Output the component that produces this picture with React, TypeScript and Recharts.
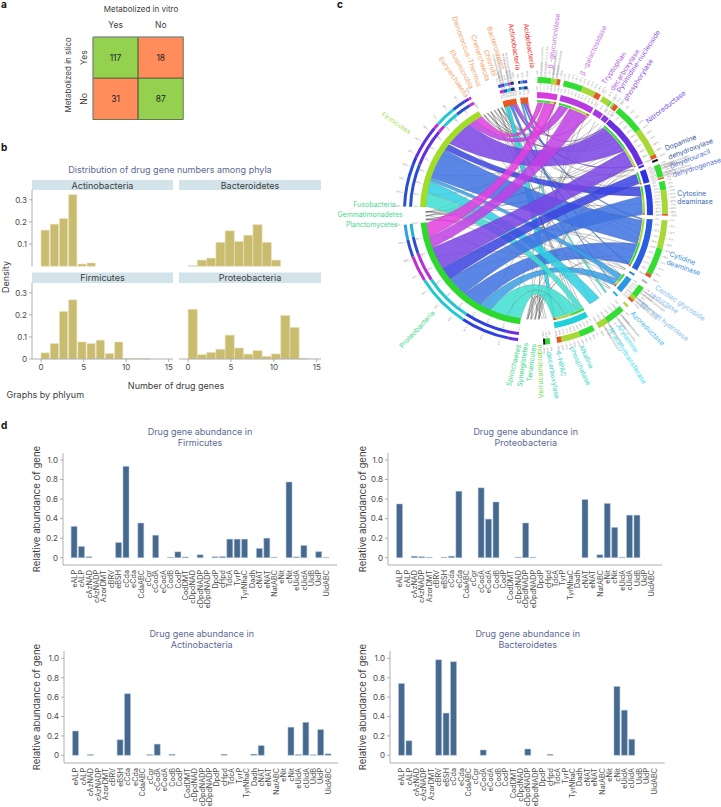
import React from 'react';
import { BarChart, Bar, XAxis, YAxis, Cell, LabelList, PieChart, Pie } from 'recharts';

const FONT = 'Inter, "Noto Sans", sans-serif';
const TITLE = '#5c6a94';
const INK = '#3d3d3d';

/* ---------- panel a ---------- */
const vitroCategories = ['Yes', 'No'];
const silicoYesCounts = [117, 18];
const silicoNoCounts = [31, 87];
const GREEN = '#93d14f';
const ORANGE = '#ff8d5c';
const silicoYesFills = [GREEN, ORANGE];
const silicoNoFills = [ORANGE, GREEN];
const matrixRows = vitroCategories.map((c, i) => ({ c, y: 1, n: 1, yc: silicoYesCounts[i], nc: silicoNoCounts[i] }));

/* ---------- panel b ---------- */
const BIN = 1.08;
const actinoDensity = [0.163, 0.19, 0.215, 0.323, 0.01, 0.015];
const bacteroDensity = [0.003, 0.028, 0.037, 0.108, 0.16, 0.112, 0.14, 0.188, 0.108, 0.028];
const firmiDensity = [0.028, 0.07, 0.215, 0.268, 0.077, 0.07, 0.085, 0.025, 0.077, 0.002, 0.002, 0.001];
const proteoDensity = [0.225, 0.02, 0.03, 0.044, 0.108, 0.05, 0.022, 0.038, 0.012, 0.023, 0.197, 0.143, 0.002];
const densityTicks = [0, 0.1, 0.2, 0.3];
const geneTicks = [0, 5, 10, 15];
const toBins = (a: number[]) => a.map((d, i) => ({ x: (i + 0.5) * BIN, d }));

/* ---------- panel d ---------- */
const genes = ['eALP','cALP','cAzNAD','cAzNADP','AzorDMT','cBRV','eBSH','cCda','eCda','CdaABC','cCgr','cCodA','eCodA','CodB','CodP','CodDMT','cDpdNAD','cDpdNADP','eDpdNADP','DpdP','cHpd','TdcA','TyrP','TyrNhaC','Dadh','cNAT','eNAT','NatABC','eNit','cNit','eUidA','cUidA','UidB','UidP','UidABC'];
const firmiAbundance = [0.32,0.115,0.01,0,0,0,0.155,0.935,0,0.355,0,0.23,0,0.005,0.06,0.008,0,0.03,0,0.01,0.012,0.19,0.19,0.19,0,0.095,0.2,0.005,0,0.775,0.008,0.125,0,0.062,0.004];
const proteoAbundance = [0.55,0,0.015,0.01,0.005,0,0.005,0.015,0.68,0,0,0.715,0.395,0.57,0,0,0.005,0.355,0.005,0,0,0,0,0,0,0.595,0,0.03,0.555,0.31,0.005,0.435,0.435,0,0];
const actinoAbundance = [0.25,0,0.008,0,0,0,0.16,0.635,0,0,0.008,0.115,0,0.01,0,0,0,0,0,0,0.01,0,0,0,0.012,0.1,0,0,0,0.29,0.008,0.34,0.005,0.265,0.015];
const bacteroAbundance = [0.74,0.15,0,0,0,0.985,0.435,0.965,0,0,0,0.055,0,0,0,0,0,0.065,0,0,0.01,0,0,0,0,0,0,0,0,0.71,0.465,0.165,0,0,0];
const abundanceTicks = [0, 0.2, 0.4, 0.6, 0.8, 1];

/* ---------- panel c: sectors, clockwise from the top ---------- */
const sectorNames = ['β-glucuronidase','β-galactosidase','Tryptophan','Pyrimidine','Nitroreductase','Dopamine','Dihydrouracil','Cytosine','Cytidine','Cardiac','Bile','Azoreductase','Arylamine','Alkaline','HPAC','Verrucomicrobia','Tenericutes','Synergistetes','Spirochaetes','Proteobacteria','Planctomycetes','Gemmatimonadetes','Fusobacteria','Firmicutes','Euryarchaeota','Elusimicrobia','Deinococcus','Crenarchaeota','Chlorobi','Bacteroidetes','Actinobacteria','Acidobacteria'];
const sectorSizes = [10,17,4.5,3,27,1,6.5,15,26,1,8,1,13,17,3,1,1,1,1,77,1,1,1,59,1,1,1,1,1,1,7,4];
const sectorGaps = [1.5,1,0.5,0.5,0.5,1.5,1,2,2,2,2,2,2,3,1,1,1,1,3,1,1,1,2,1,1,1,1,1,1,1,2,4.5];
const ORIGIN = 1.5;
const CX = 196, CY = 211, RIB = 108.5;

const thickRight: Record<string, string> = { 'β-glucuronidase':'#d83ae0','β-galactosidase':'#b83ae0','Tryptophan':'#a83ae0','Pyrimidine':'#8a3ae0','Nitroreductase':'#6a30e0','Dopamine':'#4030e0','Dihydrouracil':'#3030e0','Cytosine':'#2a40e0','Cytidine':'#2a60e0','Cardiac':'#2a80e0','Bile':'#2a98e0','Azoreductase':'#20b0e0','Alkaline':'#20d0d8' };
const thickLeft: Record<string, string> = { Proteobacteria:'#2fd82f', Firmicutes:'#a0dc28', Actinobacteria:'#e85820', Acidobacteria:'#e85820' };

const G = '#33dd33', L = '#a8d838', O = '#e05a28', K = '#1b1b1b';
const enzymeSegments: Record<string, [number, string][]> = {
  'β-glucuronidase':[[60,G],[25,L],[15,O]], 'β-galactosidase':[[50,G],[35,L],[15,O]], 'Tryptophan':[[85,L],[15,G]], 'Pyrimidine':[[30,L],[70,O]],
  'Nitroreductase':[[48,G],[46,L],[6,O]], 'Dopamine':[[100,K]], 'Dihydrouracil':[[85,G],[5,L],[10,O]], 'Cytosine':[[25,G],[70,L],[5,O]],
  'Cytidine':[[48,L],[46,G],[6,O]], 'Cardiac':[[100,'#bbbbbb']], 'Bile':[[65,G],[20,L],[15,O]], 'Azoreductase':[[100,L]], 'Arylamine':[[65,G],[35,L]],
  'Alkaline':[[40,G],[48,L],[12,O]], 'HPAC':[[70,G],[30,K]],
};
const innerSegments: Record<string, [number, string][]> = {
  'β-glucuronidase':[[70,G],[20,L],[10,O]], 'β-galactosidase':[[40,G],[50,L],[10,O]], 'Nitroreductase':[[60,G],[38,L],[2,O]], 'Dihydrouracil':[[85,G],[15,O]],
  'Cytosine':[[30,G],[64,L],[6,O]], 'Cytidine':[[50,L],[46,G],[4,O]], 'Bile':[[60,G],[25,L],[15,O]], 'Alkaline':[[45,G],[45,L],[10,O]],
};
const outerStripes: Record<string, [number, string][]> = {
  Proteobacteria:[[6,'#6a30e0'],[28,'#3040e0'],[32,'#20c8d0'],[15,'#c030d0'],[10,'#2a50d0'],[9,'#30a0e0']],
  Firmicutes:[[32,'#2a50d0'],[6,'#2d3ad8'],[26,'#6030e0'],[4,'#c030d0'],[16,'#20c8d0'],[10,'#2a50d0'],[4,'#6030e0'],[2,'#d030d0']],
  Actinobacteria:[[20,'#2a50d0'],[20,'#6030e0'],[20,'#20c8d0'],[20,'#c030d0'],[20,'#203080']],
  Acidobacteria:[[25,'#203080'],[25,'#20a0d0'],[25,'#6030e0'],[25,'#2a50d0']],
};
const innerStripes: Record<string, [number, string][]> = {
  Proteobacteria:[[8,'#6a30e0'],[26,'#3040e0'],[30,'#20c8d0'],[18,'#b830d8'],[10,'#2a50d0'],[8,'#20b0d0']],
  Firmicutes:[[34,'#2a50d0'],[30,'#6030e0'],[6,'#c030d0'],[14,'#20c8d0'],[12,'#2a50d0'],[4,'#d030d0']],
  Actinobacteria:[[25,'#c030d0'],[25,'#2a50d0'],[25,'#20c8d0'],[25,'#203080']],
  Acidobacteria:[[30,'#2a50d0'],[30,'#20a0d0'],[40,'#203080']],
};

const TEAL = '#3fe0d2', CYAN = '#30cfe2', SKY = '#3a9ee4', BLUE = '#3f72e2', NAVY = '#3a44e2', VIOLET = '#7a45e5', PURP = '#c040e5', MAG = '#e33fe0';
/* phylum, offset, width, enzyme, offset, width, colour */
const ribbons: [string, number, number, string, number, number, string][] = [
  ['Actinobacteria',0,1.5,'Arylamine',0,1,TEAL],['Actinobacteria',1.5,1.5,'Alkaline',16,0.6,CYAN],['Actinobacteria',3,1.5,'Cytidine',25,0.5,BLUE],['Actinobacteria',4.5,1.2,'Nitroreductase',26,0.5,VIOLET],['Actinobacteria',5.7,1.3,'β-galactosidase',16.5,0.4,PURP],
  ['Acidobacteria',0,1,'Bile',7.5,0.4,SKY],['Acidobacteria',1,1,'Cytidine',0,0.8,BLUE],['Acidobacteria',2,1,'Nitroreductase',0.2,0.5,VIOLET],['Acidobacteria',3,1,'β-glucuronidase',9,0.8,MAG],
  ['Proteobacteria',0,8,'Alkaline',10,7,TEAL],['Proteobacteria',8,9,'Alkaline',3,7,TEAL],['Proteobacteria',17,6,'Bile',4,4,SKY],['Proteobacteria',23,10,'Cytidine',13.5,12,BLUE],
  ['Firmicutes',0.5,7.5,'Alkaline',0,3,TEAL],['Firmicutes',8,6,'Arylamine',5,6,CYAN],['Firmicutes',14,2,'Bile',1,3,SKY],
  ['Proteobacteria',33,11,'Cytosine',5,10,BLUE],['Firmicutes',16,16.5,'Cytidine',1,12.5,BLUE],['Firmicutes',32.5,3.5,'Cytosine',0,5,NAVY],['Proteobacteria',44,7,'Dihydrouracil',0.5,5.5,NAVY],
  ['Firmicutes',36.5,14.5,'Nitroreductase',1,16,VIOLET],['Proteobacteria',51,12,'Nitroreductase',17,9,VIOLET],
  ['Firmicutes',51,4,'β-galactosidase',0.5,5,PURP],['Proteobacteria',63,6,'β-galactosidase',6,10,PURP],['Firmicutes',55,4,'β-glucuronidase',0.5,3,MAG],['Proteobacteria',69,7.5,'β-glucuronidase',4,5.5,MAG],
];
const thinEdges: [string, string[]][] = [
  ['Euryarchaeota',['β-glucuronidase','Nitroreductase','Cytidine','Alkaline']],['Elusimicrobia',['β-galactosidase','Nitroreductase','Cytidine','Cytosine']],
  ['Deinococcus',['β-galactosidase','Nitroreductase','Alkaline','Arylamine']],['Crenarchaeota',['Nitroreductase','Bile','Cytidine']],
  ['Chlorobi',['β-glucuronidase','β-galactosidase','Cytosine','Alkaline','Arylamine']],['Bacteroidetes',['β-glucuronidase','Nitroreductase','Dihydrouracil','Cytidine','Alkaline']],
  ['Planctomycetes',['Nitroreductase','Cytidine','Dopamine','Bile','Cardiac']],['Gemmatimonadetes',['β-galactosidase','Nitroreductase','Cytosine','Alkaline']],['Fusobacteria',['β-glucuronidase','Nitroreductase','Dihydrouracil','Cytidine','Azoreductase']],
  ['Verrucomicrobia',['β-glucuronidase','Nitroreductase','Cytidine','Alkaline','Alkaline']],['Tenericutes',['β-galactosidase','Nitroreductase','Alkaline','Bile']],['Synergistetes',['β-glucuronidase','Cytidine','Alkaline','HPAC']],['Spirochaetes',['β-galactosidase','Nitroreductase','Cytosine','Alkaline','HPAC']],
  ['Firmicutes',['Tryptophan','Pyrimidine','Dopamine','Cardiac','Azoreductase']],['Proteobacteria',['Tryptophan','Pyrimidine','Dopamine','Cardiac','Azoreductase','HPAC']],
];

const LIME = '#b0e060', MINT = '#45d890', ORG = '#f5a36b', RED = '#f03232', VIO = '#cb76e4', IND = '#7c55e2', DBL = '#3c5c9c', MBL = '#5c72d2', CBL = '#3a6ab4', SK1 = '#3a90e0', PBL = '#86bcf0', AZ = '#3cb8f0', AQ = '#3ee0f0', TQ = '#40d8c8', GN = '#78d840';
/* text, x, y, rotation, colour */
const chordLabels: [string, number, number, number, string][] = [
  ['β -glucuronidase',550,68.3,-82,VIO],['β -galactosidase',581.7,75,-65,VIO],['Tryptophan',603.3,83.3,-55.6,'#b060e0'],['decarboxylase',611.7,90,-57,'#b060e0'],
  ['Pyrimidine-nucleoside',618.3,91.7,-56.7,'#9050e0'],['phosphorylase',625,100,-57,'#9050e0'],['Nitroreductase',646.7,121.7,-38,IND],
  ['Dopamine',665,148.3,-20.7,DBL],['dehydroxylase',668.3,157.3,-21,DBL],['Dihydrouracil',670,166.7,-21.8,MBL],['dehydrogenase',672.7,175,-18,MBL],
  ['Cytosine',677.3,193.3,0,CBL],['deaminase',677.3,201.7,0,CBL],['Cytidine',670,253.3,21,SK1],['deaminase',666.7,261.7,19,SK1],
  ['Cardiac glycoside',656,286.7,33.7,PBL],['reductase',651,293.3,34.8,PBL],['Bile salt hydrolase',641,303.3,37.8,PBL],['Azoreductase',631.7,312.3,45,AZ],
  ['Arylamine',618.3,325,55.5,AQ],['N-acetyltransferase',610,328.3,57.5,AQ],['Alkaline',581,345,65,TQ],['phosphatase',571.7,346.7,65.7,TQ],
  ['4-HPAC',558.3,350.7,78,TQ],['decarboxylase',549,351.7,80,TQ],['Verrucomicrobia',541,398.3,-92,GN],['Tenericutes',529,381.7,-83,MINT],['Synergistetes',519.3,386.7,-81.7,MINT],['Spirochaetes',508.3,386,-76,MINT],
  ['Proteobacteria',400.7,346.7,-46.9,MINT],['Firmicutes',382.3,113.3,34.5,LIME],['Euryarchaeota',440.7,57.3,56,ORG],['Elusimicrobia',451.7,50,62,ORG],['Deinococcus-Thermus',454.3,16.7,70,ORG],
  ['Crenarchaeota',473.3,35,72,ORG],['Chlorobi',486,50,71,ORG],['Bacteroidetes',489.3,26.7,72,ORG],['Actinobacteria',511,23.3,81,RED],['Acidobacteria',526,23.3,81.4,RED],
];
const chordEndLabels: [string, number, number][] = [['Fusobacteria',395.7,204],['Gemmatimonadetes',402.7,214.3],['Planctomycetes',397.7,224.3]];

/* ---------- geometry derived from sectors ---------- */
const sectorStart: Record<string, number> = {};
const sectorSize: Record<string, number> = {};
{
  let a = ORIGIN;
  sectorNames.forEach((n, i) => { sectorStart[n] = a; sectorSize[n] = sectorSizes[i]; a += sectorSizes[i] + sectorGaps[i]; });
}
const polar = (deg: number, r: number): [number, number] => {
  const t = (deg * Math.PI) / 180;
  return [CX + r * Math.sin(t), CY - r * Math.cos(t)];
};
const pt = (p: [number, number]) => `${p[0].toFixed(2)} ${p[1].toFixed(2)}`;
const ctrl = (u: number, v: number) => {
  const cw = (v - u + 360) % 360;
  const d = Math.min(cw, 360 - cw);
  const mid = d > 170 ? u + cw / 2 : u + (cw <= 180 ? cw : cw - 360) / 2;
  return polar(mid, RIB * Math.max(0.04, 0.6 * (1 - d / 180)));
};
const ribbonPath = (a0: number, a1: number, b0: number, b1: number) =>
  `M${pt(polar(a0, RIB))}A${RIB} ${RIB} 0 0 1 ${pt(polar(a1, RIB))}Q${pt(ctrl(a1, b0))} ${pt(polar(b0, RIB))}A${RIB} ${RIB} 0 0 1 ${pt(polar(b1, RIB))}Q${pt(ctrl(b1, a0))} ${pt(polar(a0, RIB))}Z`;

const solidRing = (fills: Record<string, string>) =>
  sectorNames.flatMap((n, i) => [{ value: sectorSizes[i], fill: fills[n] || 'none' }, { value: sectorGaps[i], fill: 'none' }]);
const segmentRing = (segs: Record<string, [number, string][]>) =>
  sectorNames.flatMap((n, i) => [
    ...(segs[n] ? segs[n].map(([s, fill]) => ({ value: (sectorSizes[i] * s) / 100, fill })) : [{ value: sectorSizes[i], fill: 'none' }]),
    { value: sectorGaps[i], fill: 'none' },
  ]);

const thinCounts: Record<string, number> = {};
thinEdges.forEach(([p, es]) => { thinCounts[p] = (thinCounts[p] || 0) + es.length; es.forEach((e) => { thinCounts[e] = (thinCounts[e] || 0) + 1; }); });
const thinSeen: Record<string, number> = {};
const thinPos = (n: string) => {
  thinSeen[n] = (thinSeen[n] || 0) + 1;
  return sectorStart[n] + (sectorSize[n] * (thinSeen[n] - 0.5)) / thinCounts[n];
};
const thinPaths = thinEdges.flatMap(([p, es]) => es.map((e) => {
  const a = thinPos(p), b = thinPos(e);
  return `M${pt(polar(a, RIB))}Q${pt(ctrl(a, b))} ${pt(polar(b, RIB))}`;
}));

const LEFT_SET = ['Proteobacteria', 'Firmicutes', 'Actinobacteria', 'Acidobacteria'];
const tickSectors = sectorNames.filter((n) => sectorSize[n] >= 3);
const tickCount = (size: number) => (size >= 15 ? 10 : size >= 6 ? 6 : 2);

function RadialTicks({ r0, r1 }: { r0: (n: string) => number; r1: number }) {
  return (
    <g>
      {tickSectors.flatMap((n) => {
        const c = tickCount(sectorSize[n]);
        return Array.from({ length: c + 1 }, (_, k) => {
          const ang = sectorStart[n] + (sectorSize[n] * k) / c;
          const base = r0(n);
          const [x0, y0] = polar(ang, base);
          const [x1, y1] = polar(ang, base + r1);
          const [tx, ty] = polar(ang, base + r1 + 0.6);
          const flip = ang > 180;
          const rot = flip ? ang + 90 : ang - 90;
          return (
            <g key={`${n}${k}${r1}${base}`}>
              <line x1={x0} y1={y0} x2={x1} y2={y1} stroke="#aaa" strokeWidth={0.3} />
              <text x={tx} y={ty} transform={`rotate(${rot} ${tx} ${ty})`} fontSize={2.4} fill="#8a8a8a" fontFamily={FONT} textAnchor={flip ? 'end' : 'start'} dominantBaseline="central">{(k * 100) / c}%</text>
            </g>
          );
        });
      })}
    </g>
  );
}

function Chord() {
  const ring = (data: { value: number; fill: string }[], r0: number, r1: number, key: string) => (
    <Pie key={key} data={data} dataKey="value" cx={CX} cy={CY} innerRadius={r0} outerRadius={r1} startAngle={90 - ORIGIN} endAngle={90 - ORIGIN - 360} paddingAngle={0} stroke="none" isAnimationActive={false} legendType="none" label={false} labelLine={false} />
  );
  return (
    <div style={{ position: 'absolute', left: 338, top: 0 }}>
      <PieChart width={383} height={420} margin={{ top: 0, right: 0, bottom: 0, left: 0 }}>
        <g>{thinPaths.map((d, i) => <path key={i} d={d} fill="none" stroke="#3c3c3c" strokeWidth={0.4} strokeOpacity={0.75} />)}</g>
        <g>{ribbons.map(([p, po, pw, e, eo, ew, c], i) => (
          <path key={i} d={ribbonPath(sectorStart[p] + po, sectorStart[p] + po + pw, sectorStart[e] + eo, sectorStart[e] + eo + ew)} fill={c} fillOpacity={0.86} stroke="#444" strokeWidth={0.3} strokeOpacity={0.55} />
        ))}</g>
        {ring(solidRing(thickLeft), 108, 114, 'tl')}
        {ring(segmentRing(innerSegments), 109, 111, 'in')}
        {ring(solidRing(thickRight), 113, 119, 'tr')}
        {ring(segmentRing(innerStripes), 122, 125, 'si')}
        {ring(segmentRing(outerStripes), 128, 131, 'so')}
        {ring(segmentRing(enzymeSegments), 128, 134, 'en')}
        <RadialTicks r0={(n) => (LEFT_SET.includes(n) ? 114.5 : 119.5)} r1={1.4} />
        <RadialTicks r0={(n) => (LEFT_SET.includes(n) ? 131.5 : 134.5)} r1={2} />
      </PieChart>
    </div>
  );
}

/* ---------- panel a chart ---------- */
function Matrix() {
  return (
    <div style={{ position: 'absolute', left: 0, top: 0 }}>
      <BarChart width={200} height={125} data={matrixRows} layout="horizontal" barCategoryGap={0} margin={{ top: 20, right: 16.5, bottom: 5.5, left: 73 }}>
        <XAxis dataKey="c" orientation="top" height={17} axisLine={{ stroke: '#9a9a9a', strokeWidth: 1 }} tickLine={false} tick={{ fontSize: 8.5, fill: INK, fontFamily: FONT }} tickMargin={3} />
        <YAxis type="number" domain={[0, 2]} reversed width={20} ticks={[0.5, 1.5]} axisLine={{ stroke: '#9a9a9a', strokeWidth: 1 }} tickLine={false}
          tick={(p: any) => <text x={p.x + 2} y={p.y} transform={`rotate(-90 ${p.x + 2} ${p.y})`} textAnchor="middle" fontSize={8.5} fill={INK} fontFamily={FONT}>{p.payload.value < 1 ? 'Yes' : 'No'}</text>} />
        <Bar dataKey="y" stackId="m" isAnimationActive={false} stroke="#3b4a2c" strokeWidth={0.7}>
          {silicoYesFills.map((f, i) => <Cell key={i} fill={f} />)}
          <LabelList dataKey="yc" position="center" fontSize={8.5} fill="#222" fontFamily={FONT} />
        </Bar>
        <Bar dataKey="n" stackId="m" isAnimationActive={false} stroke="#3b4a2c" strokeWidth={0.7}>
          {silicoNoFills.map((f, i) => <Cell key={i} fill={f} />)}
          <LabelList dataKey="nc" position="center" fontSize={8.5} fill="#222" fontFamily={FONT} />
        </Bar>
      </BarChart>
    </div>
  );
}

/* ---------- panel b chart ---------- */
const axisGrey = { stroke: '#9c9c9c', strokeWidth: 0.8 };
function Facet({ values, left, top, right, bottomRow, showY }: { values: number[]; left: number; top: number; right: number; bottomRow: boolean; showY: boolean }) {
  const axisW = showY ? 32 : 0;
  const chartW = right - left + axisW + 3;
  const chartH = bottomRow ? 100 : 80;
  const chartLeft = left - axisW;
  return (
    <div style={{ position: 'absolute', left: chartLeft, top: top - 2 }}>
      <BarChart width={chartW} height={chartH} data={toBins(values)} barGap={0} barSize={9.2} margin={{ top: 2, right: 3, bottom: bottomRow ? 2 : 1.7, left: 0 }}>
        <XAxis dataKey="x" type="number" domain={[-1.06, 15.5]} ticks={geneTicks} hide={!bottomRow} height={20} axisLine={axisGrey} tickLine={{ stroke: '#9c9c9c', strokeWidth: 0.8 }} tickSize={3} tick={{ fontSize: 8, fill: '#4a4a4a', fontFamily: FONT }} tickMargin={2} />
        <YAxis type="number" domain={[0, 0.344]} ticks={densityTicks} hide={!showY} width={axisW} axisLine={axisGrey} tickLine={{ stroke: '#9c9c9c', strokeWidth: 0.8 }} tickSize={3} tickMargin={2} tick={{ fontSize: 8, fill: '#4a4a4a', fontFamily: FONT }} tickFormatter={(v: number) => (v === 0 ? '0' : v.toFixed(1))} />
        <Bar dataKey="d" fill="#c9bc6e" stroke="#e7e2c2" strokeWidth={0.6} isAnimationActive={false} />
      </BarChart>
    </div>
  );
}

/* ---------- panel d chart ---------- */
function Abundance({ values, x0, x1, y0, y1, padL, padR, domain }: { values: number[]; x0: number; x1: number; y0: number; y1: number; padL: number; padR: number; domain: [number, number] }) {
  const axisW = 30;
  const rows = genes.map((g, i) => ({ g, v: values[i] }));
  return (
    <div style={{ position: 'absolute', left: x0 - axisW, top: y0 - 2 }}>
      <BarChart width={x1 - x0 + axisW + 1} height={y1 - y0 + 2 + 46} data={rows} barCategoryGap="7%" margin={{ top: 2, right: 1, bottom: 0, left: 0 }}>
        <XAxis dataKey="g" interval={0} height={46} padding={{ left: padL, right: padR }} axisLine={axisGrey} tickLine={false}
          tick={(p: any) => <text x={p.x} y={p.y - 3} transform={`rotate(-90 ${p.x} ${p.y - 3})`} textAnchor="end" dominantBaseline="central" fontSize={7.2} fill="#4a4a4a" fontFamily={FONT}>{p.payload.value}</text>} />
        <YAxis type="number" domain={domain} ticks={abundanceTicks} width={axisW} axisLine={axisGrey} tickLine={{ stroke: '#9c9c9c', strokeWidth: 0.8 }} tickSize={3} tickMargin={2} tick={{ fontSize: 8, fill: '#4a4a4a', fontFamily: FONT }} tickFormatter={(v: number) => (v === 0 ? '0' : v.toFixed(1))} />
        <Bar dataKey="v" fill="#46698f" stroke="#b5c6d8" strokeWidth={0.5} isAnimationActive={false} />
      </BarChart>
    </div>
  );
}

/* ---------- overlay text ---------- */
function T({ x, y, children, size = 9, fill = INK, anchor = 'middle', rot = 0, weight = 400 }: any) {
  return (
    <text x={x} y={y} fontSize={size} fill={fill} textAnchor={anchor} fontWeight={weight} fontFamily={FONT} dominantBaseline="central" transform={rot ? `rotate(${rot} ${x} ${y})` : undefined}>{children}</text>
  );
}

export default function App() {
  return (
    <div style={{ position: 'absolute', left: 0, top: 0, width: 721, height: 807, background: '#fff', overflow: 'hidden', fontFamily: FONT }}>
      <svg width={721} height={807} style={{ position: 'absolute', left: 0, top: 0 }}>
        <rect x={32} y={180} width={141} height={10} fill="#d3e3ea" />
        <rect x={179} y={180} width={142} height={10} fill="#d3e3ea" />
        <rect x={32} y={272.5} width={141} height={10.5} fill="#d3e3ea" />
        <rect x={179} y={272.5} width={142} height={10.5} fill="#d3e3ea" />
      </svg>
      <Matrix />
      <Facet values={actinoDensity} left={32} right={173} top={190} bottomRow={false} showY />
      <Facet values={bacteroDensity} left={179} right={321} top={190} bottomRow={false} showY={false} />
      <Facet values={firmiDensity} left={32} right={173} top={283} bottomRow showY />
      <Facet values={proteoDensity} left={179} right={321} top={283} bottomRow showY={false} />
      <Chord />
      <Abundance values={firmiAbundance} x0={62.7} x1={336.7} y0={453} y1={565} padL={7.6} padR={7} domain={[-0.0747, 1.0716]} />
      <Abundance values={proteoAbundance} x0={388.3} x1={662.7} y0={453} y1={565} padL={8} padR={6.7} domain={[-0.0747, 1.0716]} />
      <Abundance values={actinoAbundance} x0={64.3} x1={338.3} y0={650.7} y1={762.7} padL={8} padR={6} domain={[-0.0794, 1.0753]} />
      <Abundance values={bacteroAbundance} x0={390.3} x1={665} y0={650.7} y1={762.7} padL={8} padR={6.7} domain={[-0.0794, 1.0753]} />
      <svg width={721} height={807} style={{ position: 'absolute', left: 0, top: 0, pointerEvents: 'none' }}>
        <T x={1} y={4} size={10} fill="#111" anchor="start" weight={700}>a</T>
        <T x={1} y={147} size={10} fill="#111" anchor="start" weight={700}>b</T>
        <T x={337} y={4} size={10} fill="#111" anchor="start" weight={700}>c</T>
        <T x={1} y={425} size={10} fill="#111" anchor="start" weight={700}>d</T>

        <T x={141} y={9} size={8}>Metabolized in vitro</T>
        <T x={67.7} y={75} rot={-90} size={8}>Metabolized in slico</T>

        <T x={170} y={169} fill={TITLE}>Distribution of drug gene numbers among phyla</T>
        <T x={102.5} y={185}>Actinobacteria</T>
        <T x={250} y={185}>Bacteroidetes</T>
        <T x={102.5} y={277.5}>Firmicutes</T>
        <T x={250} y={277.5}>Proteobacteria</T>
        <T x={5} y={277} rot={-90}>Density</T>
        <T x={176} y={385}>Number of drug genes</T>
        <T x={6.5} y={394} anchor="start">Graphs by phlyum</T>

        <T x={200} y={431.7} fill={TITLE}>Drug gene abundance in</T>
        <T x={200} y={442.7} fill={TITLE}>Firmicutes</T>
        <T x={525.7} y={431.7} fill={TITLE}>Drug gene abundance in</T>
        <T x={525.7} y={442.7} fill={TITLE}>Proteobacteria</T>
        <T x={201.7} y={633.3} fill={TITLE}>Drug gene abundance in</T>
        <T x={201.7} y={644.3} fill={TITLE}>Actinobacteria</T>
        <T x={527.7} y={633.3} fill={TITLE}>Drug gene abundance in</T>
        <T x={527.7} y={644.3} fill={TITLE}>Bacteroidetes</T>
        <T x={36.7} y={509} rot={-90} size={9.6}>Relative abundance of gene</T>
        <T x={362} y={509} rot={-90} size={9.6}>Relative abundance of gene</T>
        <T x={36} y={707} rot={-90} size={9.6}>Relative abundance of gene</T>
        <T x={362} y={707} rot={-90} size={9.6}>Relative abundance of gene</T>

        {chordLabels.map(([s, x, y, r, c], i) => <T key={i} x={x} y={y} rot={r} size={6.9} fill={c} anchor="start">{s}</T>)}
        {chordEndLabels.map(([s, x, y], i) => <T key={i} x={x} y={y} size={6.9} fill={MINT} anchor="end">{s}</T>)}
      </svg>
    </div>
  );
}
